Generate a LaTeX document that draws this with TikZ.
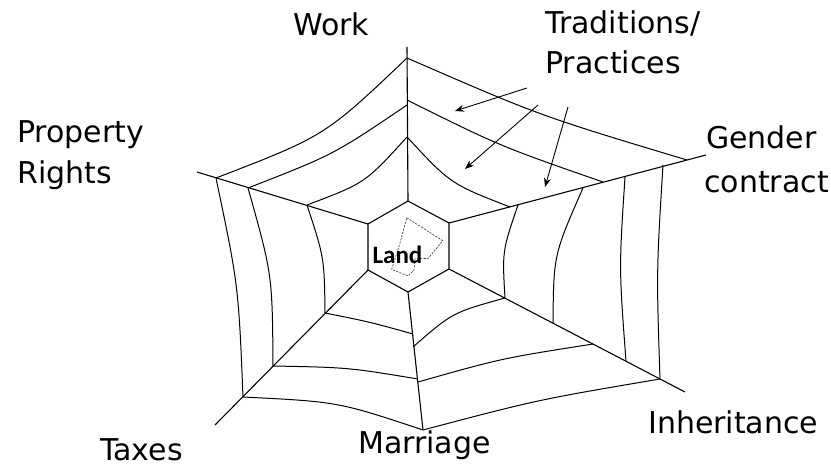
\documentclass[tikz,border=0pt]{standalone}
\usepackage{fontspec}
\setmainfont{DejaVu Sans}
\newfontfamily\landfont{Carlito}
\usetikzlibrary{arrows.meta,calc}
\tikzset{
  >={Stealth[length=9pt,width=7pt]},
  % nät
  spoke/.style={draw=black,line width=1.1pt},
  thread/.style={draw=black,line width=1pt},
  plot/.style={draw=black!80,line width=0.6pt,dash pattern=on 2.2pt off 1.2pt},
  lbl/.style={font=\fontsize{30}{36}\selectfont,inner sep=0pt,anchor=base west},
  core/.style={font=\landfont\bfseries\fontsize{25}{30}\selectfont,inner sep=0pt},
  pil/.style={->,draw=black,line width=0.9pt},
}
\begin{document}
\begin{tikzpicture}[x=1pt,y=-1pt]
  \useasboundingbox (0,0) rectangle (831,466);
  \coordinate (O) at (408.5,246);
  % hexagonen
  \coordinate (h1) at (408,201);
  \coordinate (h2) at (449,223);
  \coordinate (h3) at (449,269);
  \coordinate (h4) at (408,292);
  \coordinate (h5) at (368,270);
  \coordinate (h6) at (368,224);
  \coordinate (eW) at (407,47);
  \coordinate (eG) at (706,155);
  \coordinate (eI) at (685,392);
  \coordinate (eM) at (423,430);
  \coordinate (eT) at (215,425);
  \coordinate (eP) at (197,172);
  \draw[spoke] (h1) -- (h2) -- (h3) -- (h4) -- (h5) -- (h6) -- cycle;
  \draw[spoke] (h1) -- (eW);
  \draw[spoke] (h2) -- (eG);
  \draw[spoke] (h3) -- (eI);
  \draw[spoke] (h4) -- (eM);
  \draw[spoke] (h5) -- (eT);
  \draw[spoke] (h6) -- (eP);
  % trådar mellan ekrarna
  \foreach \xa/\ya/\xb/\yb/\f in {
      216/178/407/58/.14, 248/188/407/105/.08, 307/205/407/137/.16,
      407/58/687/160/.05, 407/100/603/182/.05, 407/137/510/207/.16,
      663/165/660/379/.02, 625/177/626/361/.03, 583/188/553/323/.09, 518/205/505/298/.09,
      660/379/423/430/.03, 593/344/418/382/.04, 505/298/413/347/.13,
      423/430/243/397/.07, 418/379/273/366/.04, 413/334/325/313/.02,
      243/397/216/178/.05, 273/366/248/188/.08, 325/313/307/205/.09}
    \draw[thread] (\xa,\ya) .. controls ($(\xa,\ya)!.5!(\xb,\yb)!\f!(O)$) .. (\xb,\yb);
  % markbiten
  \draw[plot] (406.7,217.7) -- (442.7,240.7) -- (428.3,258.3) -- (415,259)
    -- (414,270) -- (408,276) -- (391.7,269.3) -- (400,243) -- cycle;
  \node[core] (land) at (397.5,255) {Land};
  % etiketter
  \node[lbl] (work) at (293,35) {Work};
  \node[lbl] (trad1) at (545,33) {Traditions/};
  \node[lbl] (trad2) at (545,73) {Practices};
  \node[lbl] (gen1) at (706,148) {Gender};
  \node[lbl] (gen2) at (704,192) {contract};
  \node[lbl] (prop1) at (17,142) {Property};
  \node[lbl] (prop2) at (17,183) {Rights};
  \node[lbl] (tax) at (100,460) {Taxes};
  \node[lbl] (inh) at (648,433) {Inheritance};
  \node[lbl] (mar) at (358,453) {Marriage};
  % pilar
  \coordinate (p1s) at (527,88);  \coordinate (p1e) at (455,111);
  \coordinate (p2s) at (538,105); \coordinate (p2e) at (465,169);
  \coordinate (p3s) at (568,107); \coordinate (p3e) at (545,187);
  \draw[pil] (p1s) -- (p1e);
  \draw[pil] (p2s) -- (p2e);
  \draw[pil] (p3s) -- (p3e);
\end{tikzpicture}
\end{document}
